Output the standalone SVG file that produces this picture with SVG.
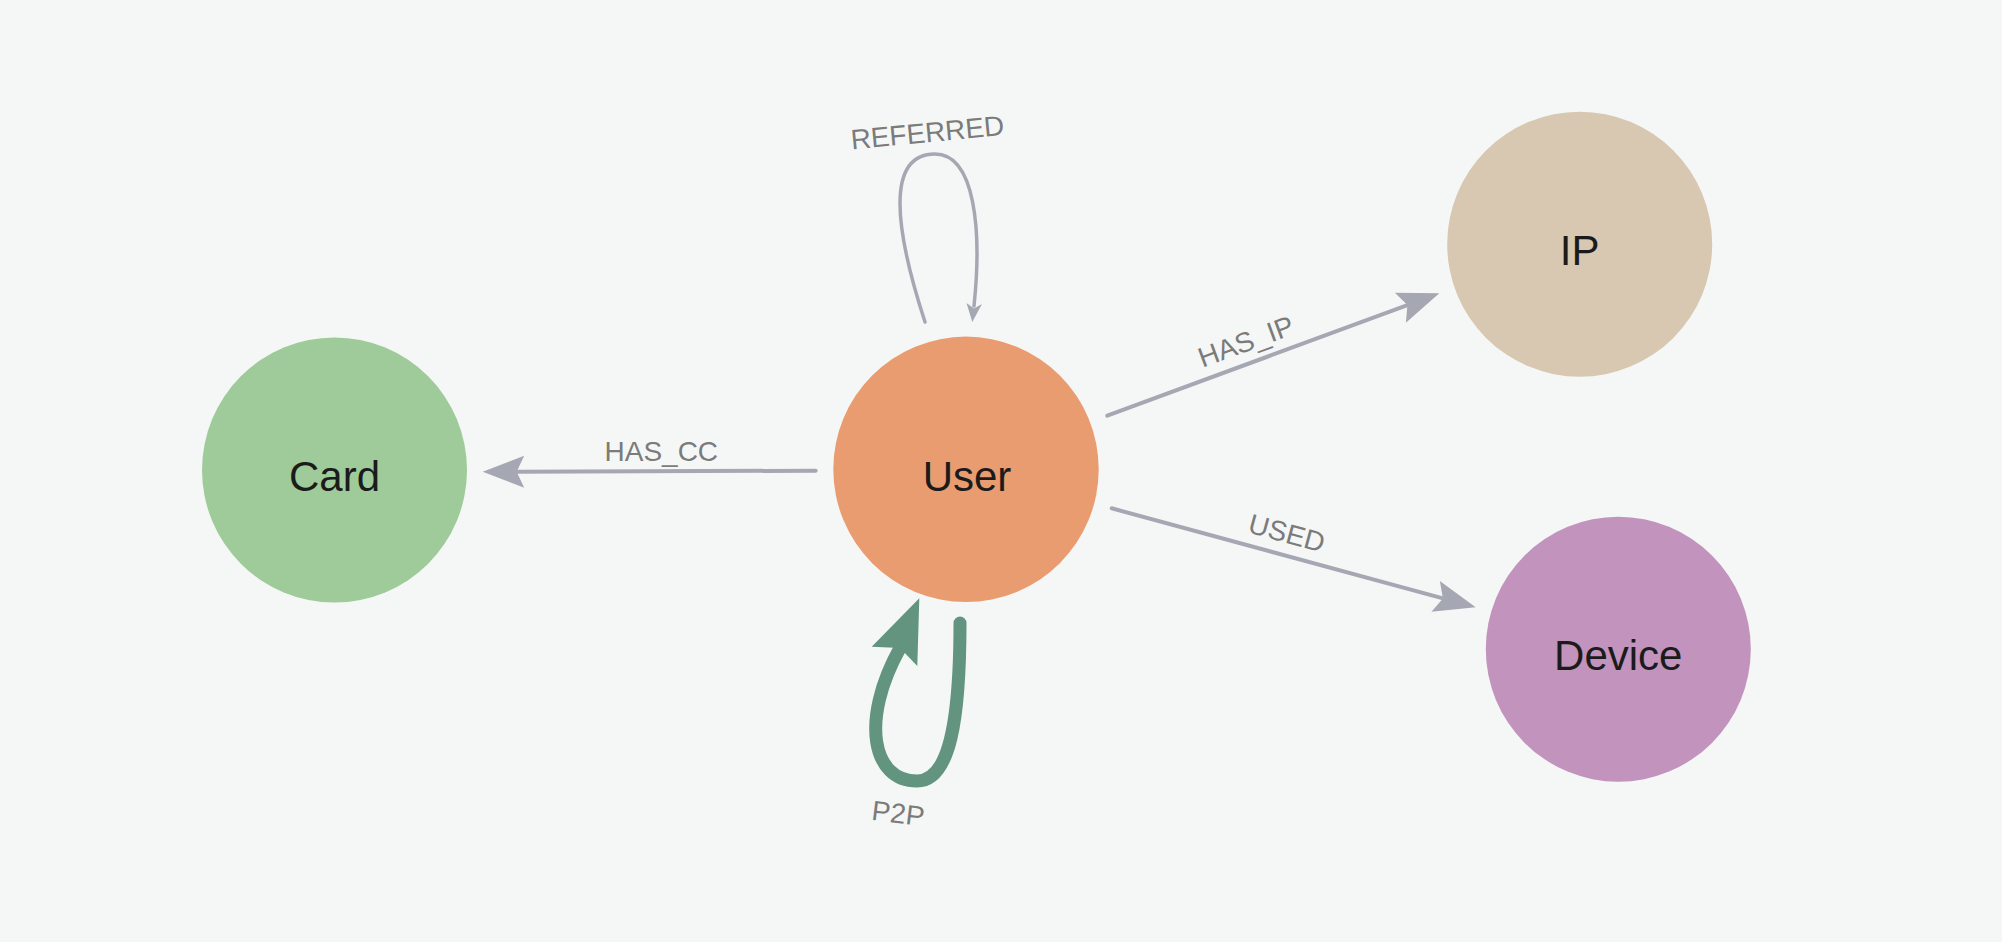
<svg xmlns="http://www.w3.org/2000/svg" width="2002" height="942" viewBox="0 0 2002 942">
<style>
.node-label{font-family:"Liberation Sans",Arial,sans-serif;font-size:42px;fill:#1b1b1b;text-anchor:middle}
.edge-label{font-family:"Liberation Sans",Arial,sans-serif;font-size:28px;fill:#7b7b7b;text-anchor:middle}
.edge{fill:none;stroke:#a5a8b3;stroke-width:4;stroke-linecap:round}
.head{fill:#a5a8b3;stroke:none}
.p2p{fill:none;stroke:#62947f;stroke-width:13;stroke-linecap:round}
.p2phead{fill:#62947f;stroke:none}
</style>
<rect x="0" y="0" width="2002" height="942" fill="#f5f7f6"/>
<g id="connectors">
  <g id="edge-has-cc">
    <line class="edge" x1="815.7" y1="470.7" x2="517" y2="471.7"/>
    <polygon class="head" points="482.7,471.7 524.2,455.7 516.7,471.7 524.2,487.7"/>
    <text class="edge-label" x="661.3" y="460.7">HAS_CC</text>
  </g>
  <g id="edge-has-ip">
    <line class="edge" x1="1107.3" y1="415.7" x2="1407.4" y2="305.1"/>
    <polygon class="head" points="1439.3,293.3 1394.9,292.7 1407.4,305.1 1405.9,322.7"/>
    <g transform="translate(1253.4,361.9) rotate(-20.24)"><text class="edge-label" x="0" y="-12">HAS_IP</text></g>
  </g>
  <g id="edge-used">
    <line class="edge" x1="1111.7" y1="508.3" x2="1443" y2="598.4"/>
    <polygon class="head" points="1475.7,607.3 1439.85,580.96 1442.9,598.4 1431.45,611.84"/>
    <g transform="translate(1281,554.5) rotate(15.2)"><text class="edge-label" x="0" y="-12.5">USED</text></g>
  </g>
  <g id="edge-referred">
    <path class="edge" style="stroke-width:3.5" d="M925,322 C895,230 885,154 935,154 C975,154 982,230 974,306"/>
    <polygon class="head" points="972.3,322 966.5,303 974,308.5 982,304"/>
    <g transform="translate(928.3,142.2) rotate(-5.45)"><text class="edge-label" x="0" y="0">REFERRED</text></g>
  </g>
  <g id="edge-p2p">
    <path class="p2p" d="M960,623 C960,720 950,781 917,781 C872,781 860,720 900,648"/>
    <polygon class="p2phead" points="919.3,598.3 871.7,646.7 900,648 917.3,666"/>
    <g transform="translate(897,823) rotate(7)"><text class="edge-label" x="0" y="0">P2P</text></g>
  </g>
</g>
<g id="node-card">
  <circle cx="334.5" cy="470" r="132.5" fill="#9ecb99"/>
  <text class="node-label" x="334.5" y="491">Card</text>
</g>
<g id="node-user">
  <circle cx="966" cy="469.3" r="132.7" fill="#e99c6f"/>
  <text class="node-label" x="967" y="490.5">User</text>
</g>
<g id="node-ip">
  <circle cx="1579.7" cy="244.2" r="132.5" fill="#d8c8b1"/>
  <text class="node-label" x="1579.7" y="265">IP</text>
</g>
<g id="node-device">
  <circle cx="1618.3" cy="649.2" r="132.5" fill="#c193bd"/>
  <text class="node-label" x="1618.3" y="670">Device</text>
</g>
</svg>
